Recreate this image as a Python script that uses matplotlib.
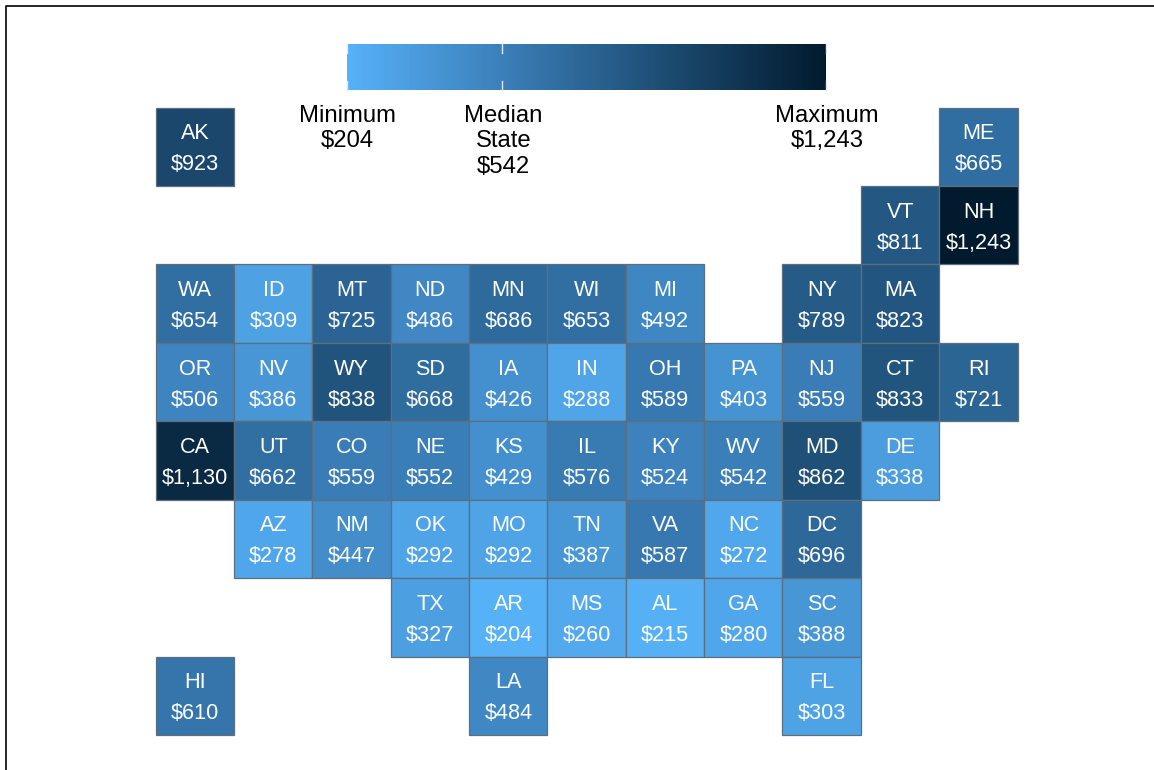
import numpy as np
import matplotlib
matplotlib.use("Agg")
import matplotlib.pyplot as plt
from matplotlib.colors import LinearSegmentedColormap, Normalize
from matplotlib.patches import Rectangle
from matplotlib.lines import Line2D

plt.rcParams['font.family'] = ['Liberation Sans', 'DejaVu Sans']

states = ["AK","ME","VT","NH",
          "WA","ID","MT","ND","MN","WI","MI","NY","MA",
          "OR","NV","WY","SD","IA","IN","OH","PA","NJ","CT","RI",
          "CA","UT","CO","NE","KS","IL","KY","WV","MD","DE",
          "AZ","NM","OK","MO","TN","VA","NC","DC",
          "TX","AR","MS","AL","GA","SC",
          "HI","LA","FL"]
values = [923,665,811,1243,
          654,309,725,486,686,653,492,789,823,
          506,386,838,668,426,288,589,403,559,833,721,
          1130,662,559,552,429,576,524,542,862,338,
          278,447,292,292,387,587,272,696,
          327,204,260,215,280,388,
          610,484,303]
cols = [0,10,9,10,
        0,1,2,3,4,5,6,8,9,
        0,1,2,3,4,5,6,7,8,9,10,
        0,1,2,3,4,5,6,7,8,9,
        1,2,3,4,5,6,7,8,
        3,4,5,6,7,8,
        0,4,8]
rows = [0,0,1,1,
        2,2,2,2,2,2,2,2,2,
        3,3,3,3,3,3,3,3,3,3,3,
        4,4,4,4,4,4,4,4,4,4,
        5,5,5,5,5,5,5,5,
        6,6,6,6,6,6,
        7,7,7]
scale_values = [204, 542, 1243]
scale_labels = ["Minimum\n$204", "Median\nState\n$542", "Maximum\n$1,243"]

W, H = 1154, 770
fig = plt.figure(figsize=(W/100, H/100), dpi=100, facecolor="white")

cmap = LinearSegmentedColormap.from_list(
    "blues", [(0, "#56B1F7"), (0.325, "#3B7FB9"), (0.69, "#1A486C"), (1, "#011A2E")])
norm = Normalize(min(values), max(values))

def fig_axes(x0, y0, x1, y1):
    return fig.add_axes([x0/W, 1-y1/H, (x1-x0)/W, (y1-y0)/H])

# tile grid
ax = fig_axes(155.5, 107.5, 1017.5, 735)
ax.set_xlim(0, 11); ax.set_ylim(8, 0); ax.axis("off")
for s, v, c, r in zip(states, values, cols, rows):
    ax.add_patch(Rectangle((c, r), 1, 1, facecolor=cmap(norm(v)),
                           edgecolor="#5E6E7C", linewidth=0.9, clip_on=False))
    ax.text(c+.505, r+.335, s, color="white", fontsize=15.6, ha="center", va="center")
    ax.text(c+.505, r+.73, f"${v:,}", color="white", fontsize=15.6, ha="center", va="center")

# gradient legend
lax = fig_axes(346.5, 44, 826, 90)
grad = np.linspace(min(values), max(values), 400)
lax.pcolormesh(grad, [0, 1], grad[None, :-1], cmap=cmap, norm=norm, shading="flat")
lax.set_xlim(min(values), max(values)); lax.set_ylim(0, 1); lax.axis("off")
for v, lab in zip(scale_values, scale_labels):
    lax.plot([v, v], [0, .2], color="#DDE8F2", lw=1, clip_on=False)
    lax.plot([v, v], [.8, 1], color="#DDE8F2", lw=1, clip_on=False)
    lax.annotate(lab, (v, 0), xytext=(0.7, -10.7), textcoords="offset points",
                 ha="center", va="top", fontsize=17.2, color="black", linespacing=1.21,
                 annotation_clip=False)

# outer border, only left and top are visible
fig.add_artist(Line2D([6/W, 6/W, 1], [0, 1-5.5/H, 1-5.5/H], color="black", lw=1.2))

fig.savefig("out.png", dpi=100)
